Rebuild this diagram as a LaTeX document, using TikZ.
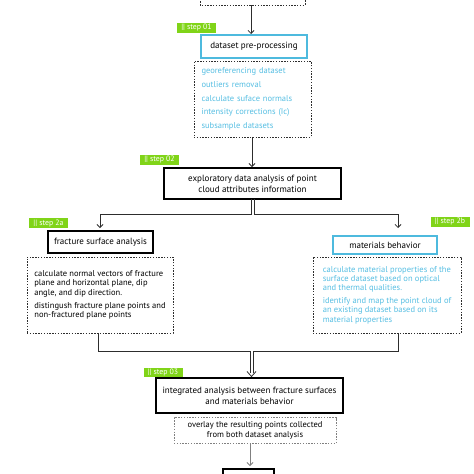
\documentclass[tikz,border=0pt]{standalone}
\usepackage{fontspec}
\setmainfont{PT Sans}
\usetikzlibrary{arrows.meta}
\definecolor{stepgreen}{RGB}{128,212,24}
\definecolor{boxcyan}{RGB}{78,186,222}
\definecolor{txtcyan}{RGB}{86,190,226}
\definecolor{linegray}{RGB}{45,45,45}
\tikzset{
  steplabel/.style={fill=stepgreen,text=white,font=\fontsize{7.8}{8}\selectfont,inner sep=0.5pt,minimum width=39pt,minimum height=10pt},
  titlebox/.style={draw=black,line width=1.1pt,font=\fontsize{9}{11}\selectfont,inner xsep=1pt,inner ysep=2pt,align=center},
  thickbox/.style={titlebox,line width=1.6pt},
  cyanbox/.style={titlebox,draw=boxcyan,line width=1.3pt},
  dotbox/.style={draw=linegray,line width=0.8pt,dash pattern=on 1.4pt off 1.4pt,inner xsep=0pt,inner ysep=0pt,align=left},
  bodytext/.style={font=\fontsize{8.5}{9.4}\selectfont},
  conn/.style={draw=linegray,line width=0.8pt},
  arr/.style={conn,-{Straight Barb[length=3pt,width=6pt]}}
}
\begin{document}
\begin{tikzpicture}[x=1pt,y=-1pt]
\useasboundingbox (0,0) rectangle (474,474);
% top partial dotted box
\draw[draw=linegray,line width=0.8pt,dash pattern=on 1.4pt off 1.4pt] (200,-10) rectangle (305,5);
\coordinate (topout) at (251,5);
% step 01
\node[steplabel] (s01) at (196.5,28) {|| step 01};
\node[cyanbox,minimum width=106pt,minimum height=23pt] (pre) at (254,46.5) {dataset pre-processing};
\node[dotbox,bodytext,text=txtcyan,minimum width=117pt,minimum height=76pt,text width=102pt] (preD) at (252.5,99)
 {georeferencing dataset\\[4.4pt]outliers removal\\[4.4pt]calculate suface normals\\[4.4pt]intensity corrections (Ic)\\[4.4pt]subsample datasets};
\draw[arr] (topout) -- (251,34);
% step 02
\node[steplabel] (s02) at (159.5,160) {|| step 02};
\node[thickbox,minimum width=177pt,minimum height=31pt] (expl) at (252.5,183.5) {exploratory data analysis of point\\cloud attributes information};
\draw[arr] (preD.south -| 252,0) -- (252,167);
% split
\coordinate (eL) at (251,199);
\coordinate (eR) at (254,199);
% step 2a
\node[steplabel] (s2a) at (48.5,223) {|| step 2a};
\node[titlebox,minimum width=105pt,minimum height=22pt] (frac) at (100.5,242) {fracture surface analysis};
\node[dotbox,bodytext,text=black,minimum width=146pt,minimum height=76pt] (fracD) at (100,295)
 {calculate normal vectors of fracture\\plane and horizontal plane, dip\\angle, and dip direction.\\[4pt]distingush fracture plane points and\\non-fractured plane points};
% step 2b
\node[steplabel] (s2b) at (450,221.5) {|| step 2b};
\node[cyanbox,minimum width=104pt,minimum height=18pt] (mat) at (385,245) {materials behavior};
\node[dotbox,bodytext,text=txtcyan,minimum width=148pt,minimum height=76pt] (matD) at (387,295)
 {calculate material properties of the\\surface dataset based on optical\\and thermal qualities.\\[3pt]identify and map the point cloud of\\an existing dataset based on its\\material properties};
\draw[arr] (eL) -- (251,214) -- (100,214) -- (100,228);
\draw[arr] (eR) -- (254,214) -- (398,214) -- (398,228);
% merge
\coordinate (fB) at (98,333);
\coordinate (mB) at (398,333);
\draw[conn] (fB) -- (98,351) -- (250,351) -- (250,373);
\draw[conn] (mB) -- (398,351) -- (253,351) -- (253,373);
\coordinate (mergetip) at (251.5,376.5);
\draw[conn] (247,371.5) -- (mergetip) -- (256,371.5);
% step 03
\node[steplabel,minimum height=9pt] (s03) at (163,372) {|| step 03};
\node[thickbox,minimum width=187pt,minimum height=35pt] (integ) at (249.5,395.5) {integrated analysis between fracture surfaces\\and materials behavior};
\node[dotbox,bodytext,align=center,text=black,minimum width=162pt,minimum height=26pt,draw=gray] (over) at (255,430.5)
 {overlay the resulting points collected\\from both dataset analysis};
% final
\draw[line width=1.6pt] (223,490) -- (223,469) -- (274,469) -- (274,490);
\coordinate (fin) at (250,466);
\draw[arr,draw=gray] (over.south -| 250,0) -- (fin);
\end{tikzpicture}
\end{document}
